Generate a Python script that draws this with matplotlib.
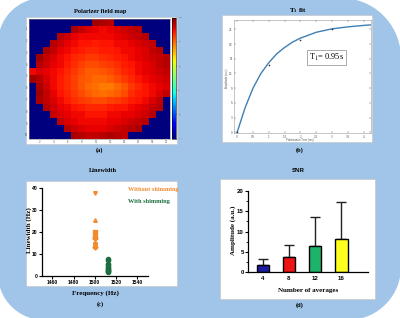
import numpy as np
import matplotlib
matplotlib.use("Agg")
import matplotlib.pyplot as plt
from matplotlib.path import Path
from matplotlib.patches import PathPatch, Rectangle

plt.rcParams['mathtext.fontset'] = 'stix'

# ---------------- data ----------------
# (a) polarizer field map, 17 rows x 20 cols (percent of colour scale, 0 = outside)
field_map = [
    [0,0,0,0,0,0,0,0,0,97,96,95,0,0,0,0,0,0,0,0],
    [0,0,0,0,0,0,96,94,92,91,90,91,92,93,94,95,0,0,0,0],
    [0,0,0,0,95,93,91,90,90,90,90,90,91,92,93,94,95,0,0,0],
    [0,0,0,95,93,91,90,89,89,88,89,89,90,90,91,92,93,94,0,0],
    [0,0,96,94,91,90,89,88,87,87,88,88,89,90,90,91,92,94,95,0],
    [0,97,94,92,90,89,87,86,85,85,86,87,88,89,90,91,92,93,94,95],
    [0,95,93,91,90,88,86,84,83,83,84,85,86,88,89,90,91,92,94,95],
    [90,92,91,90,89,87,85,83,81,81,82,83,85,87,88,90,91,92,93,94],
    [97,95,92,90,88,86,84,82,81,80,80,81,83,85,87,89,90,91,92,93],
    [0,96,93,90,88,86,84,82,80,79,78,78,80,82,85,87,89,90,91,92],
    [0,97,94,91,89,87,85,83,81,80,79,80,81,83,86,88,89,90,92,94],
    [0,96,94,92,90,88,86,85,84,83,83,84,85,86,88,89,90,92,94,0],
    [0,0,95,93,91,90,89,88,87,87,87,88,89,89,90,91,92,94,95,0],
    [0,0,0,94,92,91,90,90,89,89,89,90,90,91,91,92,93,95,0,0],
    [0,0,0,0,94,92,91,90,90,90,90,91,91,92,93,94,95,0,0,0],
    [0,0,0,0,0,95,93,92,91,91,91,92,93,94,95,96,0,0,0,0],
    [0,0,0,0,0,0,96,95,94,94,95,96,95,94,0,0,0,0,0,0],
]

# (b) T1 fit
t1_time = [0, 0.25, 0.5, 0.75, 1.0, 1.25, 1.5, 1.75, 2.0, 2.5, 3.0, 3.5, 4.0, 4.22]
t1_fit = [0, 5.0, 9.0, 12.0, 14.2, 16.0, 17.3, 18.4, 19.2, 20.4, 21.1, 21.5, 21.8, 21.9]
t1_meas_time = [0, 1, 2, 3]
t1_meas_amp = [0.1, 13.7, 18.8, 21.0]

# (c) Linewidth
freq_without = [1500] * 9
lw_without = [38.0, 25.5, 20.1, 19.4, 17.9, 17.1, 15.1, 14.4, 13.3]
mk_without = ['v', '^', 's', 'o', 's', 'D', 'h', 'o', 'D']
freq_with = [1512.5] * 11
lw_with = [7.8, 7.0, 5.5, 4.8, 4.2, 3.6, 3.1, 2.7, 2.3, 2.0, 1.6]

# (d) SNR
snr_labels = ['4', '8', '12', '16']
snr_mean = [1.8, 3.7, 6.5, 8.1]
snr_err = [1.4, 3.0, 7.0, 9.2]
snr_colors = ['#1c1ca0', '#ee1515', '#1fb36a', '#ffff1f']

# ---------------- figure ----------------
W, H = 400, 318
fig = plt.figure(figsize=(W / 100, H / 100), dpi=100)
fig.patch.set_facecolor('white')

bg = fig.add_axes([0, 0, 1, 1])
bg.set_xlim(0, W)
bg.set_ylim(H, 0)
bg.axis('off')
bg.set_zorder(-10)

# blue rounded background with different corner radii
def rounded_path(x0, y0, x1, y1, rtl, rtr, rbr, rbl, n=30):
    pts = []
    def arc(cx, cy, r, a0, a1):
        for a in np.linspace(a0, a1, n):
            pts.append((cx + r * np.cos(a), cy + r * np.sin(a)))
    arc(x0 + rtl, y0 + rtl, rtl, np.pi, 1.5 * np.pi)
    arc(x1 - rtr, y0 + rtr, rtr, 1.5 * np.pi, 2 * np.pi)
    arc(x1 - rbr, y1 - rbr, rbr, 0, 0.5 * np.pi)
    arc(x0 + rbl, y1 - rbl, rbl, 0.5 * np.pi, np.pi)
    pts.append(pts[0])
    codes = [Path.MOVETO] + [Path.LINETO] * (len(pts) - 2) + [Path.CLOSEPOLY]
    return Path(pts, codes)

bg.add_patch(PathPatch(rounded_path(-2, -2, 401, 320, 45, 60, 53, 46),
                       facecolor='#a0c5e8', edgecolor='none'))

# white panels
for (x0, y0, x1, y1) in [(26, 16.5, 177, 143.5), (221.5, 15, 372, 142),
                         (26, 180.5, 177, 286), (220, 179, 375, 299)]:
    bg.add_patch(Rectangle((x0, y0), x1 - x0, y1 - y0, facecolor='white',
                           edgecolor='#c8c8c8', lw=0.5))

serif = 'Liberation Serif'
sans = 'Liberation Sans'

def txt(x, y, s, size, **kw):
    kw.setdefault('family', serif)
    kw.setdefault('weight', 'bold')
    bg.text(x, y, s, fontsize=size, ha='center', va='center', **kw)

txt(100, 11, 'Polarizer field map', 4.6)
txt(298, 11, r'T$_{\mathbf{1}}$ fit', 5.0)
txt(103, 170, 'Linewidth', 4.6)
txt(298, 170, 'SNR', 4.4, family=sans)
txt(100, 150, '(a)', 4.6)
txt(300, 150, '(b)', 4.6)
txt(100, 304, '(c)', 4.6)
txt(300, 305.5, '(d)', 4.6)

def px_axes(x0, y0, x1, y1):
    ax = fig.add_axes([x0 / W, 1 - y1 / H, (x1 - x0) / W, (y1 - y0) / H])
    ax.set_facecolor('none')
    return ax

# ---------------- (a) heatmap ----------------
axa = px_axes(29, 18.7, 170, 138.5)
im = axa.imshow(np.array(field_map), cmap='jet', vmin=0, vmax=100, aspect='auto',
                interpolation='nearest', extent=(0.5, 20.5, 10.3, 0.15))
axa.set_xticks(range(2, 21, 2))
axa.set_yticks(range(1, 11))
axa.tick_params(labelsize=1.8, length=1, width=0.3, direction='in', colors='#555', pad=1)
for s in axa.spines.values():
    s.set_linewidth(0.4)
    s.set_color('#888')
cax = px_axes(172.3, 17.7, 176.3, 138.5)
cb = fig.colorbar(im, cax=cax)
cb.set_ticks([0, 20, 40, 60, 80, 100])
cax.tick_params(labelsize=1.5, length=1, width=0.3, colors='#666', pad=0.5)
cb.outline.set_linewidth(0.4)

# ---------------- (b) T1 fit ----------------
axb = px_axes(234, 20, 370.7, 133.3)
axb.plot(t1_time, t1_fit, color='#3f7fb3', lw=1.0)
axb.plot(t1_meas_time, t1_meas_amp, ls='none', marker='+', ms=2, mew=0.4, color='#333')
axb.set_xlim(-0.1, 4.22)
axb.set_ylim(-0.2, 22.9)
axb.set_xticks(np.arange(0, 4.01, 0.5))
axb.set_xticklabels(['0', '0.5', '1', '1.5', '2', '2.5', '3', '3.5', '4'])
axb.set_yticks(range(0, 22, 3))
axb.tick_params(labelsize=2, length=1.2, width=0.3, direction='in', colors='#555',
                pad=1, top=True, right=True)
for s in axb.spines.values():
    s.set_linewidth(0.4)
    s.set_color('#999')
bg.text(227, 78, 'Amplitude (a.u.)', fontsize=2, rotation=90, ha='center', va='center',
        color='#555', family=sans)
bg.text(300, 139.5, 'Polarization Time (ms)', fontsize=2, ha='center', va='center',
        color='#555', family=sans)
bg.text(326.5, 57.5, r'T$_1$= 0.95s', fontsize=6, ha='center', va='center', family=serif,
        bbox=dict(boxstyle='square,pad=0.25', facecolor='white', edgecolor='#888', lw=0.5))

# ---------------- (c) Linewidth ----------------
axc = px_axes(41.7, 188.3, 148, 275.7)
orange = '#f28a2e'
green = '#1d6e3e'
for f, v, m in zip(freq_without, lw_without, mk_without):
    axc.plot(f, v, marker=m, ms=2.6, color=orange, mec=orange, ls='none', clip_on=False)
axc.plot(freq_with, lw_with, marker='o', ms=3, color=green, ls='none', clip_on=False)
axc.set_xlim(1450, 1550)
axc.set_ylim(0, 40)
axc.set_xticks([1460, 1480, 1500, 1520, 1540])
axc.set_yticks([0, 10, 20, 30, 40])
axc.spines['top'].set_visible(False)
axc.spines['right'].set_visible(False)
for s in ['left', 'bottom']:
    axc.spines[s].set_linewidth(0.9)
axc.tick_params(labelsize=3.6, length=2, width=0.8, pad=1)
for lab in axc.get_xticklabels() + axc.get_yticklabels():
    lab.set_fontweight('bold')
    lab.set_family(sans)
bg.text(95, 293.5, 'Frequency (Hz)', fontsize=5, ha='center', va='center',
        family=serif, weight='bold')
bg.text(29.5, 230.5, 'Linewidth (Hz)', fontsize=5, rotation=90, ha='center', va='center',
        family=serif, weight='bold')
bg.text(128, 190, 'Without shimming', fontsize=4.5, ha='left', va='center',
        family=serif, weight='bold', color=orange)
bg.text(128, 201.5, 'With shimming', fontsize=4.5, ha='left', va='center',
        family=serif, weight='bold', color=green)

# ---------------- (d) SNR ----------------
axd = px_axes(248, 190.7, 368.3, 272.3)
xpos = np.arange(len(snr_labels))
axd.bar(xpos, snr_mean, width=0.48, color=snr_colors, edgecolor='black', lw=1.0, zorder=2)
axd.errorbar(xpos, snr_mean, yerr=[np.zeros(len(snr_err)), snr_err], fmt='none',
             ecolor='#222', elinewidth=1.0, capsize=3.5, capthick=1.0, zorder=1)
axd.set_xlim(-0.565, 4.03)
axd.set_ylim(0, 20)
axd.set_xticks(xpos)
axd.set_xticklabels(snr_labels)
axd.set_yticks([0, 5, 10, 15, 20])
axd.set_yticks(np.arange(0, 20.1, 2.5), minor=True)
axd.spines['top'].set_visible(False)
axd.spines['right'].set_visible(False)
for s in ['left', 'bottom']:
    axd.spines[s].set_linewidth(0.9)
axd.tick_params(labelsize=4.4, length=2, width=0.8, pad=1)
axd.tick_params(axis='y', which='minor', length=1.2, width=0.6)
axd.tick_params(axis='x', length=0, pad=3)
for lab in axd.get_xticklabels() + axd.get_yticklabels():
    lab.set_fontweight('bold')
    lab.set_family(sans)
bg.text(308, 290.5, 'Number of averages', fontsize=5, ha='center', va='center',
        family=serif, weight='bold')
bg.text(233.3, 230.7, 'Amplitude (a.u.)', fontsize=5, rotation=90, ha='center', va='center',
        family=serif, weight='bold')

fig.savefig('out.png', dpi=100)
